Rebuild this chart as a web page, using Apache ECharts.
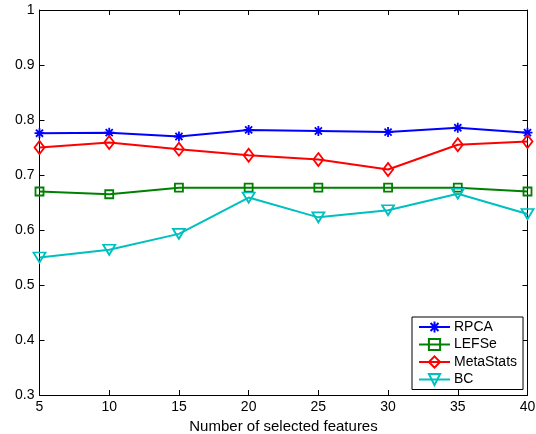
<!DOCTYPE html>
<html><head><meta charset="utf-8">
<script src="https://cdn.jsdelivr.net/npm/echarts@6/dist/echarts.min.js"></script>
<style>html,body{margin:0;padding:0;background:#fff}#c{width:536px;height:434px}</style>
</head><body><div id="c"></div>
<script>
var features = [5, 10, 15, 20, 25, 30, 35, 40];
var rpca = [0.776, 0.777, 0.770, 0.782, 0.780, 0.778, 0.786, 0.777];
var lefse = [0.670, 0.665, 0.677, 0.677, 0.677, 0.677, 0.677, 0.670];
var metastats = [0.750, 0.759, 0.747, 0.736, 0.728, 0.710, 0.755, 0.761];
var bc = [0.550, 0.564, 0.593, 0.659, 0.623, 0.636, 0.666, 0.629];
var yTicks = ['0.3','0.4','0.5','0.6','0.7','0.8','0.9','1'];

function pairs(v){ return features.map(function(x,i){ return [x, v[i]]; }); }
var FONT = 'Liberation Sans, Arial, Helvetica, sans-serif';
var asterisk = 'path://M5,0L5,10M0,5L10,5M1.46,1.46L8.54,8.54M1.46,8.54L8.54,1.46';

function mk(name, data, color, symbol, size, rotate, bw){
  return {
    name: name, type: 'line', data: pairs(data),
    symbol: symbol, symbolSize: size, symbolRotate: rotate || 0,
    showAllSymbol: true,
    lineStyle: {color: color, width: 2},
    itemStyle: {color: 'rgba(255,255,255,0)', borderColor: color, borderWidth: bw || 1.8},
    emphasis: {disabled: true},
    z: 3
  };
}

var chart = echarts.init(document.getElementById('c'), null, {renderer: 'canvas'});
var axisCommon = {
  axisLine: {show: true, onZero: false, lineStyle: {color: '#000', width: 1}},
  axisTick: {show: true, inside: true, length: 5, lineStyle: {color: '#000', width: 1}},
  splitLine: {show: false}
};
chart.setOption({
  animation: false,
  backgroundColor: '#fff',
  grid: {left: 39.5, right: 8.5, top: 10, bottom: 39, containLabel: false, outerBoundsMode: 'none'},
  xAxis: [
    Object.assign({type: 'value', min: 5, max: 40, interval: 5, position: 'bottom',
      name: 'Number of selected features', nameLocation: 'middle', nameGap: 22,
      nameTextStyle: {fontFamily: FONT, fontSize: 15, color: '#000'},
      axisLabel: {fontFamily: FONT, fontSize: 14, color: '#000', margin: 5}}, axisCommon),
    Object.assign({type: 'value', min: 5, max: 40, interval: 5, position: 'top',
      axisLabel: {show: false}}, axisCommon)
  ],
  yAxis: [
    Object.assign({type: 'value', min: 0.3, max: 1, interval: 0.1, position: 'left',
      axisLabel: {fontFamily: FONT, fontSize: 14, color: '#000', margin: 5,
        formatter: function(v){ var i = Math.round((v-0.3)/0.1); return yTicks[i] !== undefined ? yTicks[i] : ''; }}}, axisCommon),
    Object.assign({type: 'value', min: 0.3, max: 1, interval: 0.1, position: 'right',
      axisLabel: {show: false}}, axisCommon)
  ],
  legend: {
    orient: 'vertical', left: 412, top: 317,
    backgroundColor: '#fff', borderColor: '#000', borderWidth: 1,
    padding: [3, 6, 3, 6], itemGap: 3.5, itemWidth: 31, itemHeight: 14,
    textStyle: {fontFamily: FONT, fontSize: 14, color: '#000', lineHeight: 14, padding: [0,0,0,-1]},
    data: ['RPCA', 'LEFSe', 'MetaStats', 'BC']
  },
  series: [
    mk('RPCA', rpca, '#0000ff', asterisk, 10, 0, 1.8),
    mk('LEFSe', lefse, '#008000', 'rect', 8, 0, 1.8),
    mk('MetaStats', metastats, '#ff0000', 'diamond', [10, 13], 0, 1.8),
    mk('BC', bc, '#00bfbf', 'triangle', [12, 10], 180, 1.8)
  ]
});
</script></body></html>
